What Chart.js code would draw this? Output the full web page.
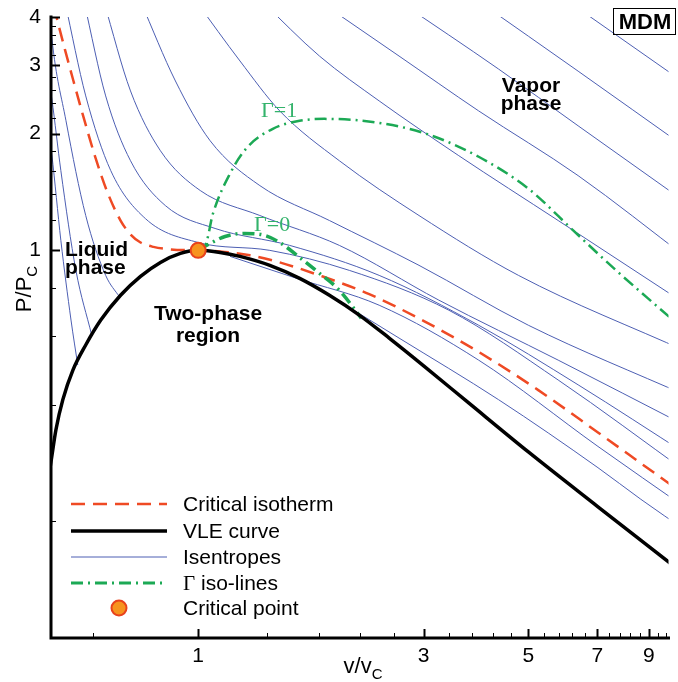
<!DOCTYPE html>
<html><head><meta charset="utf-8">
<script src="https://cdn.jsdelivr.net/npm/chart.js@4"></script>
<style>html,body{margin:0;padding:0;background:#fff}</style>
</head><body>
<canvas id="c" width="678" height="682"></canvas>
<script>
// ---- data (v/vc , P/Pc) ----
const critPoint = [1, 1];
const vleCurve = [[0.476,0.236],[0.488,0.285],[0.5,0.345],[0.517,0.412],[0.543,0.491],[0.578,0.570],[0.622,0.661],[0.685,0.766],[0.755,0.857],[0.832,0.931],[0.917,0.982],[1,1],[1.113,0.988],[1.226,0.965],[1.418,0.915],[1.64,0.847],[1.896,0.766],[2.193,0.681],[2.537,0.594],[3.006,0.503],[3.738,0.404],[5.0,0.302],[7.02,0.218],[8.945,0.173],[10.86,0.144]];
const criticalIsotherm = [[0.495,4.26],[0.502,3.97],[0.522,3.306],[0.543,2.768],[0.570,2.237],[0.607,1.724],[0.643,1.409],[0.685,1.194],[0.719,1.099],[0.755,1.048],[0.804,1.021],[0.873,1.006],[1,1],[1.113,0.994],[1.287,0.971],[1.488,0.931],[1.806,0.862],[2.302,0.771],[3.006,0.657],[3.924,0.547],[5.248,0.436],[7.02,0.339],[9.86,0.252],[10.86,0.232]];
const gamma0Line = [[1,1],[1.06,1.042],[1.14,1.086],[1.256,1.106],[1.384,1.093],[1.488,1.048],[1.64,0.959],[1.806,0.873],[1.99,0.789],[2.214,0.669]];
const gamma1Line = [[1,1],[1.034,1.024],[1.075,1.245],[1.168,1.578],[1.268,1.840],[1.439,2.059],[1.64,2.159],[1.851,2.184],[2.416,2.133],[3.079,1.988],[3.924,1.744],[5.0,1.443],[6.22,1.126],[7.66,0.889],[8.945,0.753],[9.95,0.673],[10.86,0.615]];
const isentropeL1 = [[0.476,2.29],[0.490,1.765],[0.512,1.061],[0.538,0.661],[0.556,0.506]];
const isentropeL2 = [[0.476,3.08],[0.490,2.459],[0.512,1.606],[0.551,0.888],[0.595,0.605]];
const isentropeL3 = [[0.483,4.39],[0.490,3.53],[0.525,2.159],[0.578,1.23],[0.637,0.862],[0.682,0.757]];
const isentropeV1 = [[6.07,4.39],[10.86,2.672]];
const isentropeV2 = [[3.924,4.39],[6.372,2.90],[10.86,1.829]];
const isentropeV3 = [[2.662,4.39],[4.323,2.937],[6.372,2.096],[10.86,1.321]];
const isentropeV4 = [[1.806,4.39],[2.662,3.172],[3.924,2.29],[6.372,1.559],[10.86,0.954]];
const isentropeV5 = [[1.364,4.39],[1.806,3.172],[2.416,2.43],[3.562,1.755],[5.782,1.194],[10.86,0.722]];
const isentropeV6 = [[0.990,4.39],[1.226,3.08],[1.488,2.29],[1.99,1.703],[2.934,1.23],[4.764,0.862],[10.86,0.547]];
const isentropeV7 = [[0.755,4.39],[0.895,2.735],[1.06,1.918],[1.351,1.469],[1.896,1.194],[2.934,0.915],[5.0,0.641],[10.86,0.421]];
const isentropeV8 = [[0.631,4.39],[0.719,2.578],[0.832,1.807],[1.01,1.427],[1.351,1.23],[1.99,1.030],[3.232,0.744],[5.782,0.521],[10.86,0.351]];
const isentropeV9 = [[0.573,4.39],[0.637,2.503],[0.719,1.703],[0.852,1.305],[1.086,1.139],[1.562,1.030],[2.416,0.862],[3.924,0.641],[6.372,0.450],[10.86,0.297]];
const isentropeV10 = [[0.522,4.39],[0.578,2.503],[0.653,1.606],[0.773,1.208],[1,1.048],[1.418,1.0],[2.089,0.888],[3.392,0.701],[5.782,0.463],[10.86,0.267]];
const isentropeD1 = [[1.168,0.965],[1.616,0.847],[2.416,0.722],[3.924,0.521],[7.02,0.312],[10.86,0.215]];
const isentropeD2 = [[1.896,0.766],[2.662,0.594],[4.323,0.412],[7.02,0.275],[8.65,0.228],[10.86,0.188]];
const isentropes = [isentropeL1,isentropeL2,isentropeL3,isentropeV1,isentropeV2,isentropeV3,isentropeV4,isentropeV5,isentropeV6,isentropeV7,isentropeV8,isentropeV9,isentropeV10,isentropeD1,isentropeD2];

const xRange = [0.488, 9.9];
const yRange = [0.1, 4];
const xTickLabels = [1, 3, 5, 7, 9];
const yTickLabels = [1, 2, 3, 4];
const xMinorTicks = [0.6,1.4,1.8,2.2,2.6,3.4,3.8,4.2,4.6,5.4,5.8,6.2,6.6,7.4,7.8,8.2,8.6,9.4,9.8];
const yMinorTicks = [0.2,0.4,0.6,0.8,1.2,1.4,1.6,1.8,2.2,2.4,2.6,2.8,3.2,3.4,3.6,3.8];

// ---- styles ----
const RED = '#ef4a24', GREEN = '#1ca955', BLUE = '#4d5fb3';
const SANS = '"Liberation Sans", Arial, Helvetica, sans-serif';
const SERIF = '"Liberation Serif", "Times New Roman", serif';
const pts = a => a.map(([v, p]) => ({x: v, y: p}));
const lineBase = {showLine: true, pointRadius: 0, fill: false, cubicInterpolationMode: 'monotone', clip: 0};

const datasets = [
  {label: 'Critical point', data: [{x: critPoint[0], y: critPoint[1]}], showLine: false, pointRadius: 7.5,
   pointBackgroundColor: '#f7931e', pointBorderColor: '#e8421c', pointBorderWidth: 2, legendStyle: 'point'},
  Object.assign({label: 'VLE curve', data: pts(vleCurve), borderColor: '#000', borderWidth: 3.5}, lineBase),
  Object.assign({label: 'Γ iso-lines', data: pts(gamma0Line), borderColor: GREEN, borderWidth: 3.5, borderDash: [12, 5, 2, 5]}, lineBase),
  Object.assign({label: 'Γ iso-lines', data: pts(gamma1Line), borderColor: GREEN, borderWidth: 2.5, borderDash: [12, 5, 2, 5]}, lineBase),
  Object.assign({label: 'Critical isotherm', data: pts(criticalIsotherm), borderColor: RED, borderWidth: 2.5, borderDash: [14, 8]}, lineBase)
].concat(isentropes.map(a => Object.assign({label: 'Isentropes', data: pts(a), borderColor: BLUE, borderWidth: 1}, lineBase)));

const legendOrder = ['Critical isotherm', 'VLE curve', 'Isentropes', 'Γ iso-lines', 'Critical point'];

const decor = {
  id: 'decor',
  afterDraw(chart) {
    const {ctx, chartArea: {left, top, right, bottom}, scales: {x, y}} = chart;
    ctx.save();
    ctx.strokeStyle = '#000';
    const tick = (isX, v, len, w) => {
      ctx.lineWidth = w; ctx.beginPath();
      if (isX) { const p = Math.round(x.getPixelForValue(v)) + 0.5; ctx.moveTo(p, bottom); ctx.lineTo(p, bottom - len); }
      else { const p = Math.round(y.getPixelForValue(v)) + 0.5; ctx.moveTo(left, p); ctx.lineTo(left + len, p); }
      ctx.stroke();
    };
    xMinorTicks.forEach(v => tick(true, v, 5, 1));
    yMinorTicks.forEach(v => tick(false, v, 5, 1));
    xTickLabels.forEach(v => tick(true, v, 9, 2));
    yTickLabels.forEach(v => tick(false, v, 9, 2));
    ctx.lineWidth = 3; ctx.lineCap = 'square';
    ctx.beginPath(); ctx.moveTo(left, top); ctx.lineTo(left, bottom); ctx.lineTo(right, bottom); ctx.stroke();
    ctx.lineCap = 'butt';

    // axis titles
    ctx.fillStyle = '#000'; ctx.textBaseline = 'alphabetic';
    const sub = (main, s, cx, by) => {
      ctx.font = '22px ' + SANS; const w1 = ctx.measureText(main).width;
      ctx.font = '15px ' + SANS; const w2 = ctx.measureText(s).width;
      const x0 = cx - (w1 + w2) / 2;
      ctx.font = '22px ' + SANS; ctx.textAlign = 'left'; ctx.fillText(main, x0, by);
      ctx.font = '15px ' + SANS; ctx.fillText(s, x0 + w1, by + 6);
    };
    sub('v/v', 'C', 363, 673);
    ctx.save(); ctx.translate(31, 289); ctx.rotate(-Math.PI / 2); sub('P/P', 'C', 0, 0); ctx.restore();

    // region labels
    ctx.font = 'bold 21px ' + SANS; ctx.textAlign = 'left';
    ctx.fillText('Liquid', 65, 256); ctx.fillText('phase', 65, 274);
    ctx.textAlign = 'center';
    ctx.fillText('Two-phase', 208, 320); ctx.fillText('region', 208, 342);
    ctx.fillText('Vapor', 531, 92); ctx.fillText('phase', 531, 110);
    ctx.font = 'bold 22px ' + SANS; ctx.fillText('MDM', 645, 29);
    ctx.lineWidth = 1; ctx.strokeRect(613.5, 8.5, 62, 26);
    ctx.fillStyle = '#33b36b'; ctx.font = '22px ' + SERIF; ctx.textAlign = 'left';
    ctx.fillText('Γ=1', 261, 117); ctx.fillText('Γ=0', 254, 231);

    // legend
    const rows = [504, 531, 557, 583, 608];
    legendOrder.forEach((lab, i) => {
      const ds = chart.data.datasets.find(d => d.label === lab);
      const yy = rows[i];
      if (ds.legendStyle === 'point') {
        ctx.beginPath(); ctx.arc(119, yy, 7.5, 0, Math.PI * 2);
        ctx.fillStyle = ds.pointBackgroundColor; ctx.fill();
        ctx.lineWidth = ds.pointBorderWidth; ctx.strokeStyle = ds.pointBorderColor; ctx.stroke();
      } else {
        ctx.beginPath(); ctx.setLineDash(ds.borderDash || []);
        ctx.strokeStyle = ds.borderColor; ctx.lineWidth = Math.min(ds.borderWidth, 3.5);
        if (lab === 'Γ iso-lines') ctx.lineWidth = 3;
        ctx.moveTo(71, yy); ctx.lineTo(167, yy); ctx.stroke(); ctx.setLineDash([]);
      }
      ctx.fillStyle = '#000'; ctx.textAlign = 'left'; ctx.textBaseline = 'middle';
      let tx = 183, txt = lab;
      if (lab.startsWith('Γ')) {
        ctx.font = '21px ' + SERIF; ctx.fillText('Γ', tx, yy + 1);
        tx += ctx.measureText('Γ').width; txt = lab.slice(1);
      }
      ctx.font = '21px ' + SANS; ctx.fillText(txt, tx, yy + 1);
    });
    ctx.restore();
  }
};

new Chart(document.getElementById('c'), {
  type: 'scatter',
  data: {datasets},
  options: {
    responsive: false, animation: false, devicePixelRatio: 1,
    layout: {padding: {left: 0, top: 17, right: 6, bottom: 0}},
    plugins: {legend: {display: false}, tooltip: {enabled: false}},
    scales: {
      x: {type: 'logarithmic', min: xRange[0], max: xRange[1],
          grid: {display: false, drawTicks: false}, border: {display: false},
          ticks: {color: '#000', font: {family: SANS, size: 21}, padding: 6, maxRotation: 0, autoSkip: false, callback: v => String(v)},
          afterBuildTicks: s => { s.ticks = xTickLabels.map(v => ({value: v})); },
          afterFit: s => { s.height = 44; s.paddingLeft = 0; s.paddingRight = 0; }},
      y: {type: 'logarithmic', min: yRange[0], max: yRange[1],
          grid: {display: false, drawTicks: false}, border: {display: false},
          ticks: {color: '#000', font: {family: SANS, size: 21}, padding: 10, autoSkip: false, callback: v => String(v)},
          afterBuildTicks: s => { s.ticks = yTickLabels.map(v => ({value: v})); },
          afterFit: s => { s.width = 51; s.paddingTop = 0; s.paddingBottom = 0; }}
    }
  },
  plugins: [decor]
});
</script>
</body></html>
